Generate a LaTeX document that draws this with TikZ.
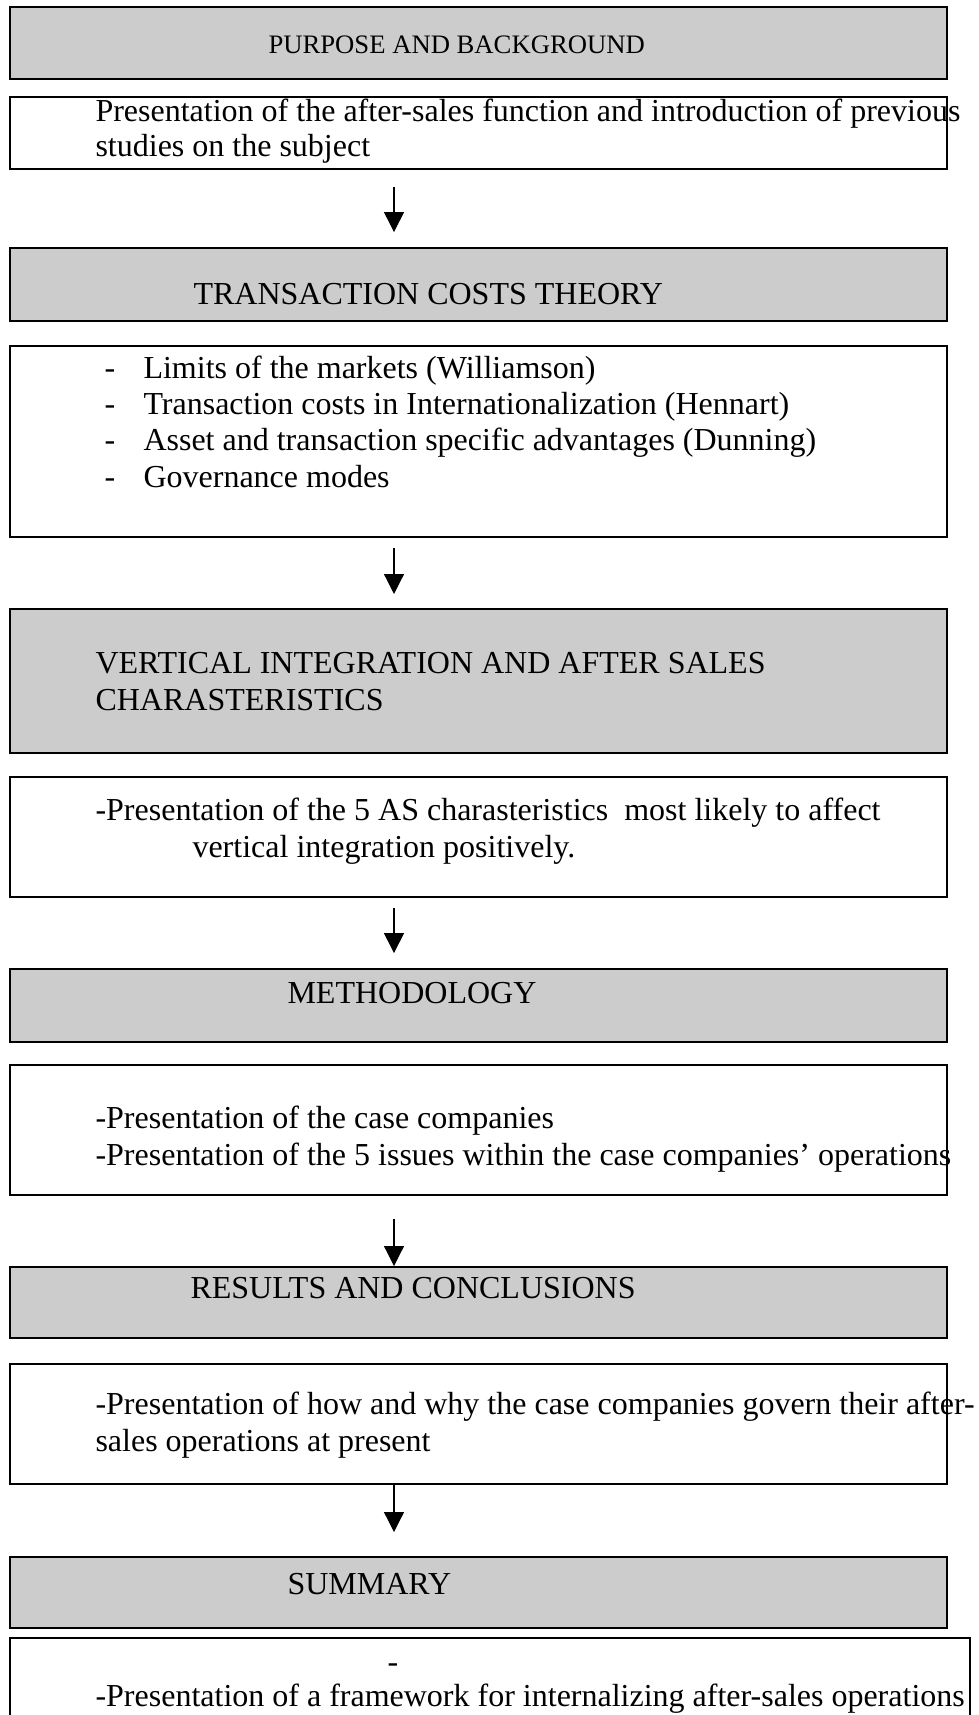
\documentclass[tikz,border=0pt]{standalone}
\usepackage{fontspec}
\setmainfont{Liberation Serif}
\usetikzlibrary{arrows.meta,fit}
\definecolor{headgray}{gray}{0.8}
\tikzset{
    headbox/.style={draw, line width=0.75pt, fill=headgray, inner sep=0pt},
    bodybox/.style={draw, line width=0.75pt, fill=white, inner sep=0pt},
    boxtext/.style={anchor=base west, inner sep=0pt, font=\fontsize{12}{14}\selectfont},
    flow/.style={line width=0.45pt, -{Triangle[width=7.5pt,length=7.5pt]}},
}

\begin{document}
\begin{tikzpicture}[x=0.375pt, y=-0.375pt]
    \useasboundingbox (0,0) rectangle (979,1715);
    \clip (0,0) rectangle (979,1715);
    \coordinate (axis) at (394,0);

    % Purpose and background
    \node[headbox, fit={(10,7) (947,79)}] (purpose) {};
    \node[boxtext, font=\fontsize{10}{12}\selectfont] (purposeT) at (268,54) {PURPOSE AND BACKGROUND};
    \node[bodybox, fit={(10,97) (947,169)}] (intro) {};
    \node[boxtext] (introA) at (95,122) {Presentation of the after-sales function and introduction of previous};
    \node[boxtext] (introB) at (95,157) {studies on the subject};

    % Transaction costs theory
    \node[headbox, fit={(10,248) (947,321)}] (theory) {};
    \node[boxtext] (theoryT) at (193,305) {TRANSACTION COSTS THEORY};
    \node[bodybox, fit={(10,346) (947,537)}] (theoryB) {};
    \foreach \txt [count=\i] in {Limits of the markets (Williamson),
        Transaction costs in Internationalization (Hennart),
        Asset and transaction specific advantages (Dunning),
        Governance modes} {
      \node[boxtext] (dash\i) at (104,342+36.3*\i) {-};
      \node[boxtext] (item\i) at (143,342+36.3*\i) {\txt};
    }

    % Vertical integration
    \node[headbox, fit={(10,609) (947,753)}] (vertical) {};
    \node[boxtext] (verticalA) at (95,673) {VERTICAL INTEGRATION AND AFTER SALES};
    \node[boxtext] (verticalB) at (95,710) {CHARASTERISTICS};
    \node[bodybox, fit={(10,777) (947,897)}] (charac) {};
    \node[boxtext] (characA) at (95,820) {-Presentation of the 5 AS charasteristics\ \ most likely to affect};
    \node[boxtext] (characB) at (192,857) {vertical integration positively.};

    % Methodology
    \node[headbox, fit={(10,969) (947,1042)}] (method) {};
    \node[boxtext] (methodT) at (287,1003) {METHODOLOGY};
    \node[bodybox, fit={(10,1065) (947,1195)}] (cases) {};
    \node[boxtext] (casesA) at (95,1128) {-Presentation of the case companies};
    \node[boxtext] (casesB) at (95,1165) {-Presentation of the 5 issues within the case companies’ operations};

    % Results and conclusions
    \node[headbox, fit={(10,1267) (947,1338)}] (results) {};
    \node[boxtext] (resultsT) at (190,1298) {RESULTS AND CONCLUSIONS};
    \node[bodybox, fit={(10,1364) (947,1484)}] (govern) {};
    \node[boxtext] (governA) at (95,1414) {-Presentation of how and why the case companies govern their after-};
    \node[boxtext] (governB) at (95,1451) {sales operations at present};

    % Summary
    \node[headbox, fit={(10,1557) (947,1628)}] (summary) {};
    \node[boxtext] (summaryT) at (287,1594) {SUMMARY};
    \node[bodybox, fit={(10,1638) (970,1730)}] (frame) {};
    \node[boxtext] (frameD) at (387,1672) {-};
    \node[boxtext] (frameA) at (95,1706) {-Presentation of a framework for internalizing after-sales operations};

    % Arrows between the stages
    \draw[flow, shorten <=6.4pt, shorten >=5.6pt] (intro.south -| axis) -- (theory.north -| axis);
    \draw[flow, shorten <=3.75pt, shorten >=5.25pt] (theoryB.south -| axis) -- (vertical.north -| axis);
    \draw[flow, shorten <=3.75pt, shorten >=5.6pt] (charac.south -| axis) -- (method.north -| axis);
    \draw[flow, shorten <=8.6pt] (cases.south -| axis) -- (results.north -| axis);
    \draw[flow, shorten >=9pt] (govern.south -| axis) -- (summary.north -| axis);
\end{tikzpicture}
\end{document}
